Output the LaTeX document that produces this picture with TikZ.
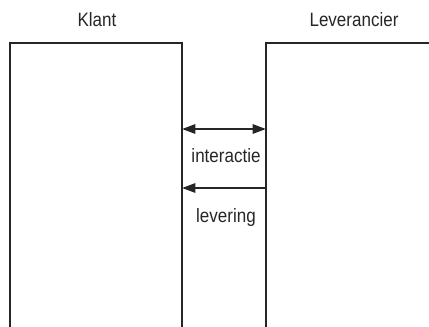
\documentclass[tikz,border=0pt]{standalone}
\usepackage{fontspec}
\setmainfont[FakeStretch=0.88]{Liberation Sans}
\usetikzlibrary{arrows.meta,positioning}

\begin{document}
\begin{tikzpicture}[x=0.75pt, y=-0.75pt,
  wand/.style = {draw=black!85, line width=1.5pt},
  tekst/.style = {font=\fontsize{14.5}{16}\selectfont, inner sep=0pt, text=black!85},
  pijl/.style = {wand, -{Triangle[length=10pt,width=7pt]}},
  dubbel/.style = {wand, {Triangle[length=10pt,width=7pt]}-{Triangle[length=10pt,width=7pt]}}]
\useasboundingbox (0,0) rectangle (429,326);
% de twee partijen
\node[tekst, anchor=base] (klant) at (97,26) {Klant};
\node[tekst, anchor=base] (lev) at (354,26) {Leverancier};
\draw[wand] (10,330) |- (182,43) -- (182,330);
\draw[wand] (266,330) |- (435,43);
% aansluitpunten op de wanden
\coordinate (k1) at (182,129);
\coordinate (l1) at (266,129);
\coordinate (k2) at (182,188);
\coordinate (l2) at (266,188);
\draw[dubbel] (k1) -- (l1);
\draw[pijl] (l2) -- (k2);
\node[tekst, anchor=base] (inter) at (226,162) {interactie};
\node[tekst] (lever) [below=45pt of inter.base, anchor=base] {levering};
\end{tikzpicture}
\end{document}
